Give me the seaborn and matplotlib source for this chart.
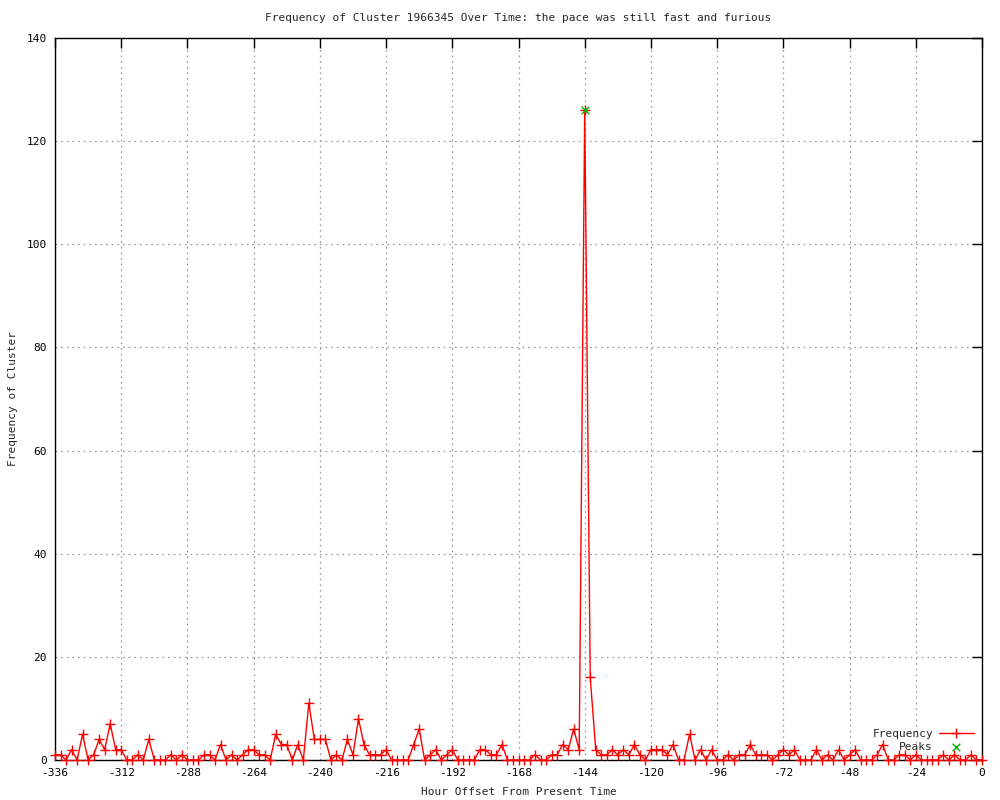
import numpy as np
import pandas as pd
import matplotlib
matplotlib.use("Agg")
import matplotlib.pyplot as plt
import seaborn as sns

# Hour offsets (every 2 hours from -336 to 0)
hours = list(range(-336, 1, 2))
frequency = [
    1, 1, 0, 2, 0, 5, 0, 1, 4, 2, 7, 2, 2, 0, 0, 1, 0, 4, 0, 0, 0, 1, 0, 1, 0, 0, 0, 1, 1,
    0, 3, 0, 1, 0, 1, 2, 2, 1, 1, 0, 5, 3, 3, 0, 3, 0, 11, 4, 4, 4, 0, 1, 0, 4, 1, 8,
    3, 1, 1, 1, 2, 0, 0, 0, 0, 3, 6, 0, 1, 2, 0, 1, 2, 0, 0, 0, 0, 2, 2, 1, 1, 3, 0, 0, 0,
    0, 0, 1, 0, 0, 1, 1, 3, 2, 6, 2, 126, 16, 2, 1, 1, 2, 1, 2, 1, 3, 1, 0, 2, 2, 2, 1, 3,
    0, 0, 5, 0, 2, 0, 2, 0, 0, 1, 0, 1, 1, 3, 1, 1, 1, 0, 1, 2, 1, 2, 0, 0, 0, 2, 0, 1,
    0, 2, 0, 1, 2, 0, 0, 0, 1, 3, 0, 0, 1, 1, 0, 1, 0, 0, 0, 0, 1, 0, 1, 0, 0, 1, 0, 0,
]
peak_hours = [-144]
peak_values = [126]

x_ticks = list(range(-336, 1, 24))
y_ticks = list(range(0, 141, 20))

title = "Frequency of Cluster 1966345 Over Time: the pace was still fast and furious"
xlabel = "Hour Offset From Present Time"
ylabel = "Frequency of Cluster"

sns.set_style("white")
plt.rcParams["font.family"] = ["DejaVu Sans Mono", "DejaVu Sans"]
plt.rcParams["font.size"] = 8
plt.rcParams["axes.unicode_minus"] = False

df = pd.DataFrame({"hour": hours, "freq": frequency})
dfp = pd.DataFrame({"hour": peak_hours, "freq": peak_values})

fig = plt.figure(figsize=(10, 8), dpi=100)
ax = fig.add_axes([0.055, 0.05, 0.927, 0.9025])

sns.lineplot(data=df, x="hour", y="freq", ax=ax, color="red", linewidth=1.0,
             marker="+", markersize=6.5, markeredgewidth=1.0, markeredgecolor="red",
             label="Frequency", clip_on=False, zorder=3)
sns.scatterplot(data=dfp, x="hour", y="freq", ax=ax, color="#00b000", marker="x",
                s=30, linewidth=1.0, label="Peaks", zorder=4, clip_on=False)

ax.set_xlim(-336, 0)
ax.set_ylim(0, 140)
ax.set_xticks(x_ticks)
ax.set_yticks(y_ticks)
ax.grid(True, color="#a0a0a0", linestyle=(0, (1.5, 3)), linewidth=0.9)
ax.set_axisbelow(True)
for s in ax.spines.values():
    s.set_color("black")
    s.set_linewidth(1.0)
ax.tick_params(direction="in", length=7, width=1, top=True, right=True,
               labelsize=8, colors="black", pad=6)

ax.set_title(title, fontsize=8, pad=12)
ax.set_xlabel(xlabel, fontsize=8, labelpad=6)
ax.set_ylabel(ylabel, fontsize=8, labelpad=6)

leg = ax.legend(loc="lower right", frameon=False, markerfirst=False, fontsize=8,
                handlelength=3.2, handletextpad=0.5, labelspacing=0.3,
                borderaxespad=0.3, bbox_to_anchor=(1.0, 0.0))

fig.savefig("out.png", dpi=100)
